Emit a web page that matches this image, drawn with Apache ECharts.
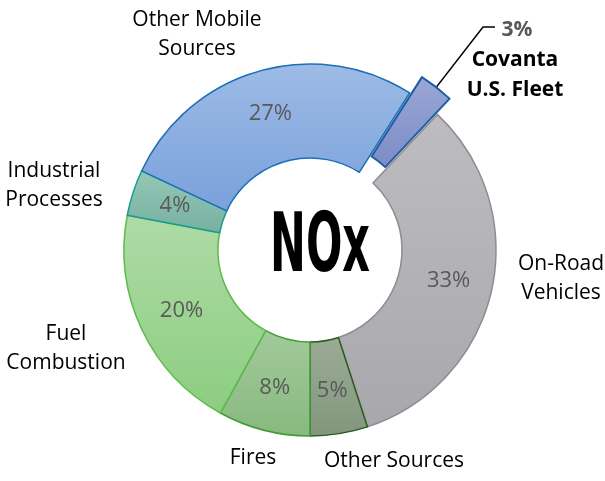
<!DOCTYPE html>
<html>
<head>
<meta charset="utf-8">
<script src="https://cdn.jsdelivr.net/npm/echarts@6/dist/echarts.min.js"></script>
<style>
html,body{margin:0;padding:0;background:#fff;}
#c{width:605px;height:481px;}
</style>
</head>
<body>
<div id="c"></div>
<script>
// ---- data ----
var categories = ['Covanta\nU.S. Fleet', 'On-Road\nVehicles', 'Other Sources', 'Fires', 'Fuel\nCombustion', 'Industrial\nProcesses', 'Other Mobile\nSources'];
var shares = [3, 33, 5, 8, 20, 4, 27];
var centerText = 'NOx';

// ---- styles (not data) ----
var fills = [
  ['#9aa8d6', '#7c8bc4'],
  ['#bdbdc1', '#a8a8ac'],
  ['#9aac96', '#83967d'],
  ['#a2ca9b', '#88b97e'],
  ['#aedba6', '#8ccd80'],
  ['#95c7b6', '#77b1a1'],
  ['#9dbbe5', '#7aa1db']
];
var borders = ['#1f5ca4', '#8c8c90', '#2a5a20', '#3f9c36', '#5cba4c', '#179c8c', '#1b6fb8'];
var outerLabelPos = [null, [561, 279], [394, 461], [253, 458], [66, 349], [54, 186], [197, 35]];

var CX = 310, CY = 250, R0 = 92, R1 = 186, OFFSET = 20;
var total = shares.reduce(function (a, b) { return a + b; }, 0);
var startCW = 32.4; // degrees clockwise from top where first slice starts

var chart = echarts.init(document.getElementById('c'), null, {renderer: 'canvas'});

var data = categories.map(function (n, i) {
  return {
    name: n,
    value: shares[i],
    selected: i === 0,
    itemStyle: {
      color: new echarts.graphic.LinearGradient(0, 0, 0, 1, [
        {offset: 0, color: fills[i][0]}, {offset: 1, color: fills[i][1]}
      ]),
      borderColor: borders[i],
      borderWidth: i === 0 ? 2 : 1.5
    },
    label: {show: i !== 0}
  };
});

var FONT = '"Open Sans", "Noto Sans", sans-serif';
var graphics = [];
categories.forEach(function (n, i) {
  if (!outerLabelPos[i]) return;
  graphics.push({
    type: 'text', x: outerLabelPos[i][0], y: outerLabelPos[i][1], silent: true,
    style: {text: n, fill: '#000', font: '21px ' + FONT, align: 'center', verticalAlign: 'middle', lineHeight: 29}
  });
});

// Covanta callout
var midCW = startCW + shares[0] / total * 360 / 2;
var rad = midCW * Math.PI / 180;
var rm = (R0 + R1) / 2 + OFFSET;
var sx = CX + rm * Math.sin(rad), sy = CY - rm * Math.cos(rad);
graphics.push({
  type: 'polyline', silent: true,
  shape: {points: [[sx, sy], [483, 27], [495, 27]]},
  style: {stroke: '#000', lineWidth: 1.5, fill: null}
});
graphics.push({
  type: 'text', x: 517, y: 30, silent: true,
  style: {text: shares[0] + '%', fill: '#595959', font: 'bold 21px ' + FONT, align: 'center', verticalAlign: 'middle'}
});
graphics.push({
  type: 'text', x: 515, y: 75, silent: true,
  style: {text: categories[0], fill: '#000', font: 'bold 21px ' + FONT, align: 'center', verticalAlign: 'middle', lineHeight: 30}
});

// center text, condensed to target width
var nFont = 'bold 82px "Liberation Sans Narrow", "DejaVu Sans Condensed", sans-serif';
var cv = document.createElement('canvas').getContext('2d');
cv.font = nFont;
var w = cv.measureText(centerText).width;
var sxScale = 100 / w;
graphics.push({
  type: 'text', x: 320, y: 250, scaleX: sxScale, silent: true,
  style: {text: centerText, fill: '#000', font: nFont, align: 'center', verticalAlign: 'middle'}
});

chart.setOption({
  animation: false,
  series: [{
    type: 'pie',
    center: [CX, CY],
    radius: [R0, R1],
    startAngle: 90 - startCW,
    clockwise: true,
    avoidLabelOverlap: false,
    selectedMode: 'single',
    selectedOffset: OFFSET,
    emphasis: {disabled: true},
    label: {
      position: 'inside',
      formatter: function (p) { return p.value + '%'; },
      color: '#595959',
      fontSize: 22,
      fontFamily: FONT
    },
    labelLine: {show: false},
    data: data
  }],
  graphic: graphics
});
</script>
</body>
</html>
